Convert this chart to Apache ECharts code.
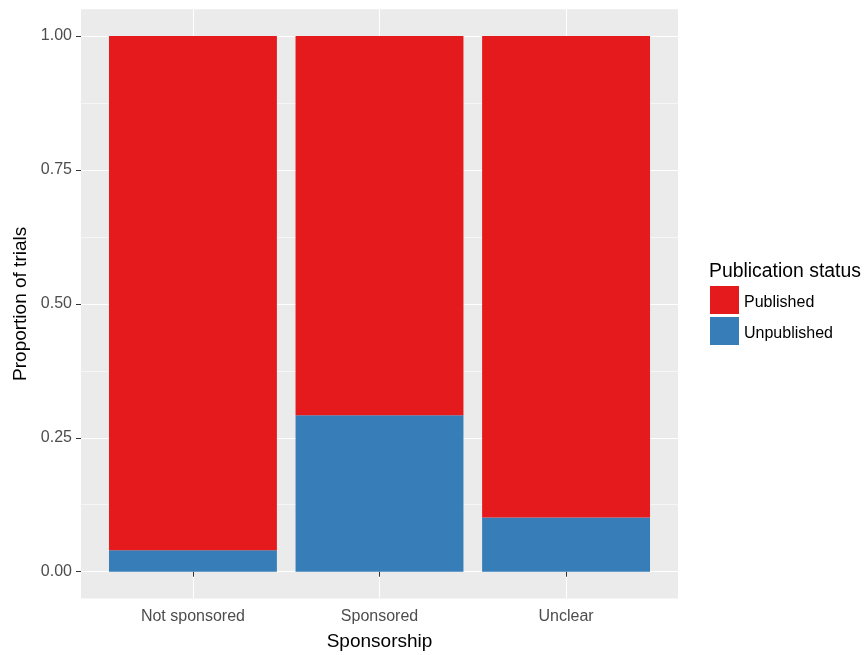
<!DOCTYPE html>
<html><head><meta charset="utf-8">
<script src="https://cdn.jsdelivr.net/npm/echarts@6/dist/echarts.min.js"></script>
<style>html,body{margin:0;padding:0;background:#fff}#c{width:868px;height:655px}</style>
</head><body><div id="c"></div>
<script>
const categories = ['Not sponsored', 'Sponsored', 'Unclear'];
const published = [0.96, 0.708, 0.899];
const unpublished = [0.04, 0.292, 0.101];
const yTicks = [0, 0.25, 0.5, 0.75, 1];
const yMinorTicks = [0.125, 0.375, 0.625, 0.875];
const seriesNames = ['Published', 'Unpublished'];
const legendTitle = 'Publication status';
const xTitle = 'Sponsorship';
const yTitle = 'Proportion of trials';

const FONT = "'Liberation Sans', Arial, sans-serif";
const panel = { left: 81, top: 9.2, width: 597, height: 589.3 };
const xExpand = 0.6, yExpand = 0.05;
const xUnits = categories.length - 1 + 2 * xExpand;
const unitX = panel.width / xUnits;
const unitY = panel.height / (1 + 2 * yExpand);
const barGrid = {
  left: panel.left + (xExpand - 0.5) * unitX,
  top: panel.top + yExpand * unitY,
  width: categories.length * unitX,
  height: unitY
};
const xPos = categories.map((c, i) => i + 1);

const chart = echarts.init(document.getElementById('c'), null, { renderer: 'canvas' });
chart.setOption({
  animation: false,
  backgroundColor: '#ffffff',
  textStyle: { fontFamily: FONT },
  title: {
    text: legendTitle, left: 709, top: 262, padding: 0,
    textStyle: { fontSize: 19.4, fontWeight: 'normal', color: '#000', fontFamily: FONT }
  },
  legend: {
    data: seriesNames, orient: 'vertical', left: 710, top: 286, padding: 0,
    itemWidth: 29, itemHeight: 28, itemGap: 3, icon: 'rect',
    formatter: name => '{t|' + name + '}',
    textStyle: { fontSize: 16, color: '#000', fontFamily: FONT,
      rich: { t: { fontSize: 16, color: '#000', fontFamily: FONT, padding: [6, 0, 0, 0] } } }
  },
  grid: [
    { left: panel.left, top: panel.top, width: panel.width, height: panel.height,
      show: true, backgroundColor: '#EBEBEB', borderWidth: 0, containLabel: false, outerBoundsMode: 'none' },
    { left: barGrid.left, top: barGrid.top, width: barGrid.width, height: barGrid.height,
      show: false, containLabel: false, outerBoundsMode: 'none' }
  ],
  xAxis: [
    { gridIndex: 0, type: 'value', min: 1 - xExpand, max: categories.length + xExpand,
      name: xTitle, nameLocation: 'middle', nameGap: 34,
      nameTextStyle: { fontSize: 19, color: '#000', fontFamily: FONT },
      axisLine: { show: false },
      axisTick: { show: true, customValues: xPos, length: 5, lineStyle: { color: '#333', width: 1 } },
      axisLabel: { show: true, customValues: xPos, margin: 10, fontSize: 16, color: '#4D4D4D', fontFamily: FONT,
        formatter: v => categories[Math.round(v) - 1] },
      splitLine: { show: true, lineStyle: { color: '#ffffff', width: 1.1 } }
    },
    { gridIndex: 1, type: 'category', data: categories, show: false }
  ],
  yAxis: [
    { gridIndex: 0, type: 'value', min: -yExpand, max: 1 + yExpand,
      name: yTitle, nameLocation: 'middle', nameGap: 50, nameRotate: 90,
      nameTextStyle: { fontSize: 19, color: '#000', fontFamily: FONT },
      axisLine: { show: false },
      axisTick: { show: true, customValues: yTicks, length: 5, lineStyle: { color: '#333', width: 1 } },
      axisLabel: { show: true, customValues: yTicks, margin: 9, fontSize: 16, color: '#4D4D4D', fontFamily: FONT,
        formatter: v => v.toFixed(2) },
      splitLine: { show: true, lineStyle: { color: '#ffffff', width: 1.1 } }
    },
    { gridIndex: 0, type: 'value', min: -yExpand, max: 1 + yExpand, position: 'left',
      axisLine: { show: false },
      axisTick: { show: false, customValues: yMinorTicks },
      axisLabel: { show: false, customValues: yMinorTicks },
      splitLine: { show: true, lineStyle: { color: '#ffffff', width: 0.55 } }
    },
    { gridIndex: 1, type: 'value', min: 0, max: 1, show: false, splitLine: { show: false } }
  ],
  series: [
    { name: seriesNames[1], type: 'bar', xAxisIndex: 1, yAxisIndex: 2, stack: 'p',
      barWidth: '90%', data: unpublished, itemStyle: { color: '#377EB8' } },
    { name: seriesNames[0], type: 'bar', xAxisIndex: 1, yAxisIndex: 2, stack: 'p',
      barWidth: '90%', data: published, itemStyle: { color: '#E41A1C' } }
  ]
});
</script></body></html>
